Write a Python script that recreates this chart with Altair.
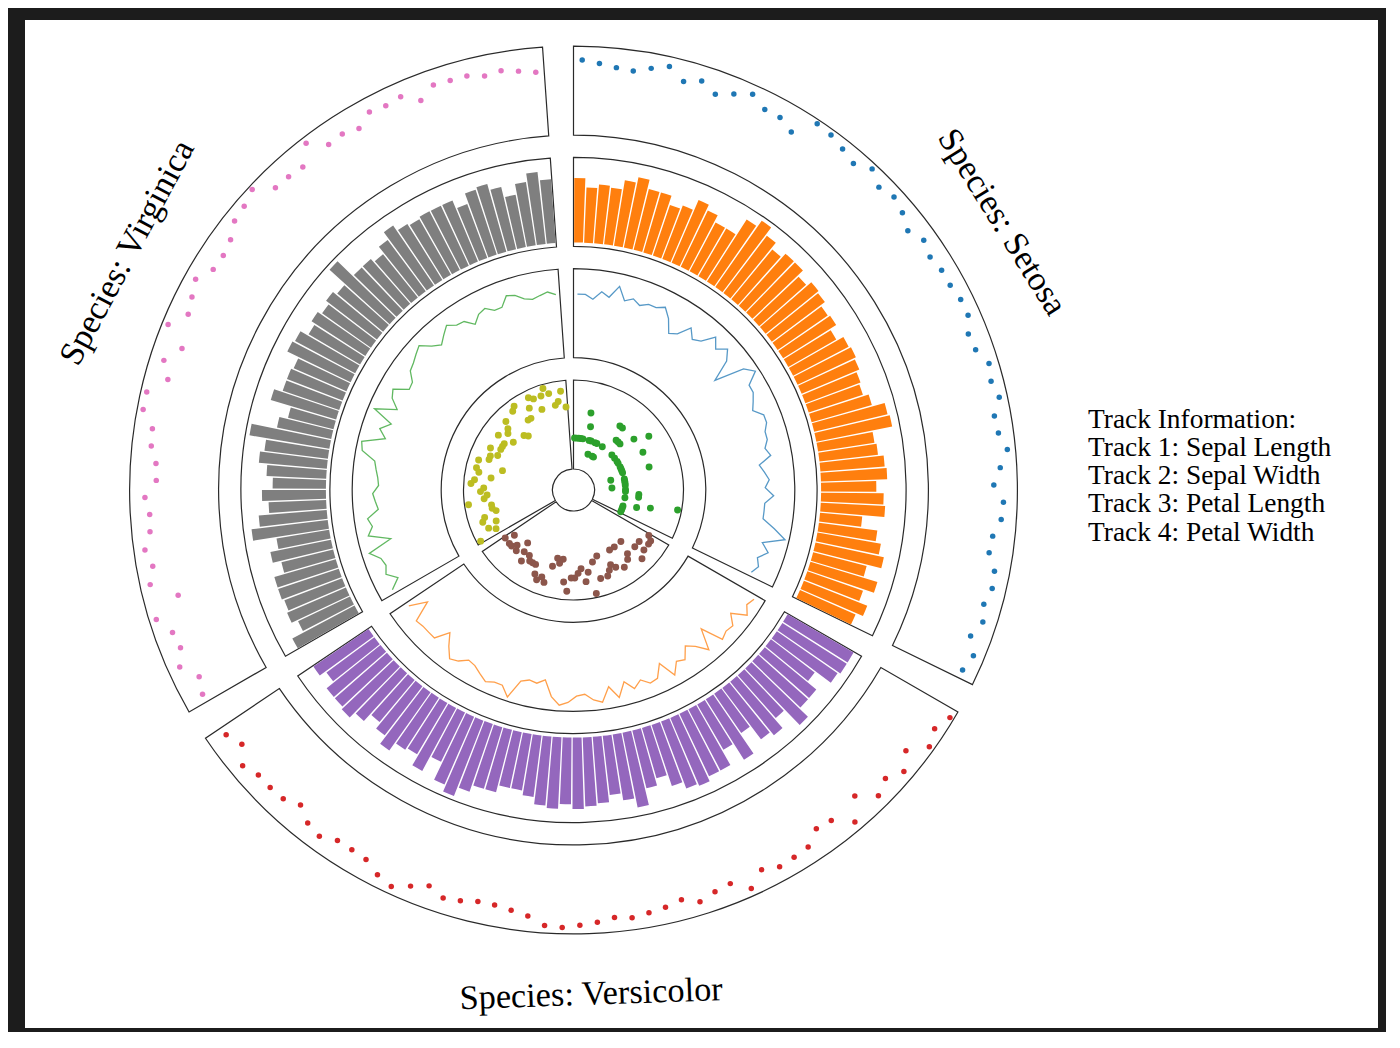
import math
import altair as alt
import pandas as pd

SPECIES = ["Setosa", "Versicolor", "Virginica"]
TRACK_NAMES = ["Sepal Length", "Sepal Width", "Petal Length", "Petal Width"]

setosa_sepal_length = [5.1,4.9,4.7,4.6,5.0,5.4,4.6,5.0,4.4,4.9,5.4,4.8,4.8,4.3,5.8,5.7,5.4,5.1,5.7,5.1,5.4,5.1,4.6,5.1,4.8,5.0,5.0,5.2,5.2,4.7,4.8,5.4,5.2,5.5,4.9,5.0,5.5,4.9,4.4,5.1,5.0,4.5,4.4,5.0,5.1,4.8,5.1,4.6,5.3,5.0]
setosa_sepal_width = [3.5,3.0,3.2,3.1,3.6,3.9,3.4,3.4,2.9,3.1,3.7,3.4,3.0,3.0,4.0,4.4,3.9,3.5,3.8,3.8,3.4,3.7,3.6,3.3,3.4,3.0,3.4,3.5,3.4,3.2,3.1,3.4,4.1,4.2,3.1,3.2,3.5,3.6,3.0,3.4,3.5,2.3,3.2,3.5,3.8,3.0,3.8,3.2,3.7,3.3]
setosa_petal_length = [1.4,1.4,1.3,1.5,1.4,1.7,1.4,1.5,1.4,1.5,1.5,1.6,1.4,1.1,1.2,1.5,1.3,1.4,1.7,1.5,1.7,1.5,1.0,1.7,1.9,1.6,1.6,1.5,1.4,1.6,1.6,1.5,1.5,1.4,1.5,1.2,1.3,1.4,1.3,1.5,1.3,1.3,1.3,1.6,1.9,1.4,1.6,1.4,1.5,1.4]
setosa_petal_width = [0.2,0.2,0.2,0.2,0.2,0.4,0.3,0.2,0.2,0.1,0.2,0.2,0.1,0.1,0.2,0.4,0.4,0.3,0.3,0.3,0.2,0.4,0.2,0.5,0.2,0.2,0.4,0.2,0.2,0.2,0.2,0.4,0.1,0.2,0.2,0.2,0.2,0.1,0.2,0.2,0.3,0.3,0.2,0.6,0.4,0.3,0.2,0.2,0.2,0.2]

versicolor_sepal_length = [7.0,6.4,6.9,5.5,6.5,5.7,6.3,4.9,6.6,5.2,5.0,5.9,6.0,6.1,5.6,6.7,5.6,5.8,6.2,5.6,5.9,6.1,6.3,6.1,6.4,6.6,6.8,6.7,6.0,5.7,5.5,5.5,5.8,6.0,5.4,6.0,6.7,6.3,5.6,5.5,5.5,6.1,5.8,5.0,5.6,5.7,5.7,6.2,5.1,5.7]
versicolor_sepal_width = [3.2,3.2,3.1,2.3,2.8,2.8,3.3,2.4,2.9,2.7,2.0,3.0,2.2,2.9,2.9,3.1,3.0,2.7,2.2,2.5,3.2,2.8,2.5,2.8,2.9,3.0,2.8,3.0,2.9,2.6,2.4,2.4,2.7,2.7,3.0,3.4,3.1,2.3,3.0,2.5,2.6,3.0,2.6,2.3,2.7,3.0,2.9,2.9,2.5,2.8]
versicolor_petal_length = [4.7,4.5,4.9,4.0,4.6,4.5,4.7,3.3,4.6,3.9,3.5,4.2,4.0,4.7,3.6,4.4,4.5,4.1,4.5,3.9,4.8,4.0,4.9,4.7,4.3,4.4,4.8,5.0,4.5,3.5,3.8,3.7,3.9,5.1,4.5,4.5,4.7,4.4,4.1,4.0,4.4,4.6,4.0,3.3,4.2,4.2,4.2,4.3,3.0,4.1]
versicolor_petal_width = [1.4,1.5,1.5,1.3,1.5,1.3,1.6,1.0,1.3,1.4,1.0,1.5,1.0,1.4,1.3,1.4,1.5,1.0,1.5,1.1,1.8,1.3,1.5,1.2,1.3,1.4,1.4,1.7,1.5,1.0,1.1,1.0,1.2,1.6,1.5,1.6,1.5,1.3,1.3,1.3,1.2,1.4,1.2,1.0,1.3,1.2,1.3,1.3,1.1,1.3]

virginica_sepal_length = [6.3,5.8,7.1,6.3,6.5,7.6,4.9,7.3,6.7,7.2,6.5,6.4,6.8,5.7,5.8,6.4,6.5,7.7,7.7,6.0,6.9,5.6,7.7,6.3,6.7,7.2,6.2,6.1,6.4,7.2,7.4,7.9,6.4,6.3,6.1,7.7,6.3,6.4,6.0,6.9,6.7,6.9,5.8,6.8,6.7,6.7,6.3,6.5,6.2,5.9]
virginica_sepal_width = [3.3,2.7,3.0,2.9,3.0,3.0,2.5,2.9,2.5,3.6,3.2,2.7,3.0,2.5,2.8,3.2,3.0,3.8,2.6,2.2,3.2,2.8,2.8,2.7,3.3,3.2,2.8,3.0,2.8,3.0,2.8,3.8,2.8,2.8,2.6,3.0,3.4,3.1,3.0,3.1,3.1,3.1,2.7,3.2,3.3,3.0,2.5,3.0,3.4,3.0]
virginica_petal_length = [6.0,5.1,5.9,5.6,5.8,6.6,4.5,6.3,5.8,6.1,5.1,5.3,5.5,5.0,5.1,5.3,5.5,6.7,6.9,5.0,5.7,4.9,6.7,4.9,5.7,6.0,4.8,4.9,5.6,5.8,6.1,6.4,5.6,5.1,5.6,6.1,5.6,5.5,4.8,5.4,5.6,5.1,5.1,5.9,5.7,5.2,5.0,5.2,5.4,5.1]
virginica_petal_width = [2.5,1.9,2.1,1.8,2.2,2.1,1.7,1.8,1.8,2.5,2.0,1.9,2.1,2.0,2.4,2.3,1.8,2.2,2.3,1.5,2.3,2.0,2.0,1.8,2.1,1.8,1.8,1.8,2.1,1.6,1.9,2.0,2.2,1.5,1.4,2.3,2.4,1.8,1.8,2.1,2.4,2.3,1.9,2.3,2.5,2.3,1.9,2.0,2.3,1.8]

SERIES = {
    "Setosa": [setosa_sepal_length, setosa_sepal_width, setosa_petal_length, setosa_petal_width],
    "Versicolor": [versicolor_sepal_length, versicolor_sepal_width, versicolor_petal_length, versicolor_petal_width],
    "Virginica": [virginica_sepal_length, virginica_sepal_width, virginica_petal_length, virginica_petal_width],
}

# tab10-style colours per (species, track)
COLORS = {
    ("Setosa", 1): "#1f77b4", ("Versicolor", 1): "#d62728", ("Virginica", 1): "#e377c2",
    ("Setosa", 2): "#ff7f0e", ("Versicolor", 2): "#9467bd", ("Virginica", 2): "#7f7f7f",
    ("Setosa", 3): "#1f77b4", ("Versicolor", 3): "#ff7f0e", ("Virginica", 3): "#2ca02c",
    ("Setosa", 4): "#2ca02c", ("Versicolor", 4): "#8c564b", ("Virginica", 4): "#bcbd22",
}
KEYS = [f"{sp}-{t}" for (sp, t) in COLORS]
KEY_COLORS = [COLORS[k] for k in COLORS]

rows = []
for s, sp in enumerate(SPECIES):
    for t, arr in enumerate(SERIES[sp]):
        for i, v in enumerate(arr):
            rows.append({"species": sp, "s": s, "track": t + 1, "i": i, "value": v, "key": f"{sp}-{t+1}"})
df = pd.DataFrame(rows)

box_rows = [{"species": sp, "s": s, "track": t} for s, sp in enumerate(SPECIES) for t in range(1, 5)]
box_df = pd.DataFrame(box_rows)
lab_df = pd.DataFrame({"species": SPECIES, "s": [0, 1, 2], "lab": [f"Species: {sp}" for sp in SPECIES]})
leg_df = pd.DataFrame({"k": list(range(5)),
                       "txt": ["Track Information:"] + [f"Track {k+1}: {n}" for k, n in enumerate(TRACK_NAMES)]})

# layout (pixel units around the circle centre)
W, H = 1353, 1008
CX, CY = 548.5, 470          # centre inside the plot area
XS = alt.Scale(domain=[-CX, W - CX], nice=False, zero=False)
YS = alt.Scale(domain=[CY - H, CY], nice=False, zero=False)
TS = alt.Scale(domain=[0, 360], range=[0, 2 * math.pi], nice=False, zero=False)
RS = alt.Scale(type="linear", domain=[0, 600], range=[0, 600], nice=False, zero=False)

RIN = "(21 + (4 - datum.track) * 111.3)"
SLOT = 116 / 50

xc = alt.XDatum(0, scale=XS, axis=None)
yc = alt.YDatum(0, scale=YS, axis=None)
col = alt.Color("key:N", scale=alt.Scale(domain=KEYS, range=KEY_COLORS), legend=None)

boxes = alt.Chart(box_df).transform_calculate(
    t0="datum.s * 120", t1="datum.s * 120 + 116",
    r0=RIN, r1=RIN + " + 89",
).mark_arc(fillOpacity=0, stroke="#2a2a2a", strokeWidth=1.2).encode(
    x=xc, y=yc,
    theta=alt.Theta("t0:Q", scale=TS, stack=None), theta2="t1:Q",
    radius=alt.Radius("r1:Q", scale=RS), radius2="r0:Q",
)

base = alt.Chart(df).transform_joinaggregate(
    vmax="max(value)", groupby=["species", "track"]
).transform_calculate(
    rin=RIN,
).transform_calculate(
    rb="datum.rin + 4",
    r="datum.rin + 4 + 81 * datum.value / datum.vmax",
    ang=f"datum.s * 120 + (datum.i + 0.5) * {SLOT}",
).transform_calculate(
    a1=f"datum.ang - {0.44 * SLOT}",
    a2=f"datum.ang + {0.44 * SLOT}",
    x="datum.r * sin(datum.ang * PI / 180)",
    y="datum.r * cos(datum.ang * PI / 180)",
)

px = alt.X("x:Q", scale=XS, axis=None)
py = alt.Y("y:Q", scale=YS, axis=None)

dots = base.transform_filter("datum.track == 1").mark_circle(size=30, opacity=1).encode(
    x=px, y=py, color=col)

bars = base.transform_filter("datum.track == 2").mark_arc().encode(
    x=xc, y=yc,
    theta=alt.Theta("a1:Q", scale=TS, stack=None), theta2="a2:Q",
    radius=alt.Radius("r:Q", scale=RS), radius2="rb:Q",
    color=col)

lines = base.transform_filter("datum.track == 3").mark_line(strokeWidth=1.3, opacity=0.75).encode(
    x=px, y=py, color=col, detail="species:N", order="i:Q")

scatter = base.transform_filter("datum.track == 4").mark_circle(size=48, opacity=1).encode(
    x=px, y=py, color=col)

labels = alt.Chart(lab_df).transform_calculate(
    mid="datum.s * 120 + 58",
).transform_calculate(
    x="505 * sin(datum.mid * PI / 180)",
    y="505 * cos(datum.mid * PI / 180)",
    rot="((datum.mid > 90 && datum.mid < 270 ? datum.mid - 180 : datum.mid) + 360) % 360",
).mark_text(font="Liberation Serif", fontSize=34.3, align="center", baseline="middle", color="black").encode(
    x=px, y=py, text="lab:N", angle=alt.Angle("rot:Q", scale=None))

legend = alt.Chart(leg_df).transform_calculate(
    x="514.5", y="62.5 - datum.k * 28.3",
).mark_text(font="Liberation Serif", fontSize=27.4, align="left", baseline="alphabetic", color="black").encode(
    x=px, y=py, text="txt:N")

chart = alt.layer(boxes, bars, lines, dots, scatter, labels, legend).properties(
    width=W, height=H,
    padding={"left": 17, "top": 12, "right": 8, "bottom": 4},
    background="#1c1c1c",
).configure_view(stroke=None, fill="white")

chart.save("out.html", embed_options={"renderer": "svg", "actions": False})
